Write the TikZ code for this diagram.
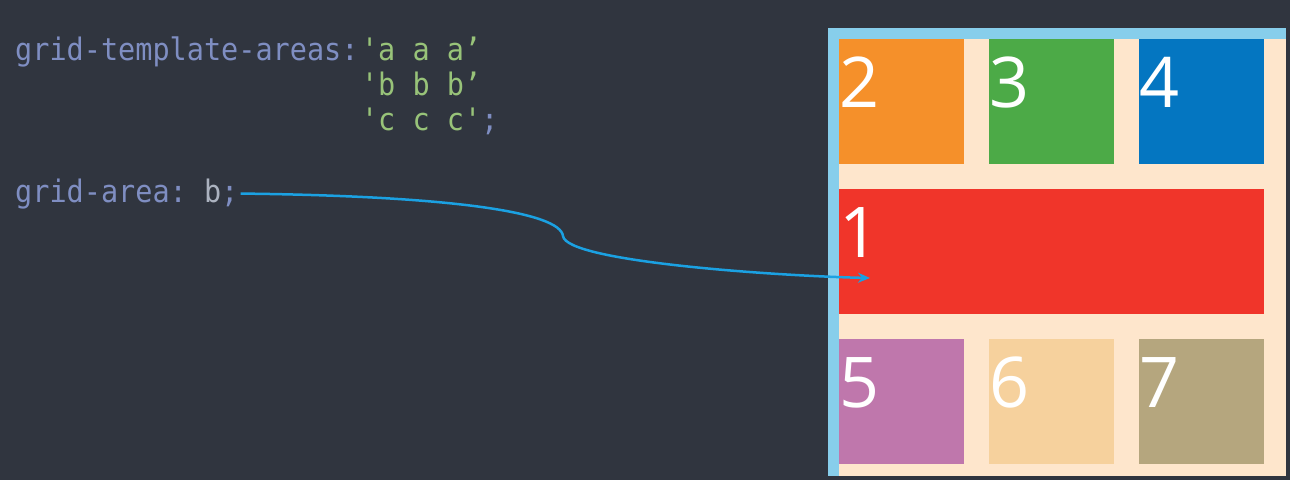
\documentclass[tikz,border=0pt]{standalone}
\usepackage{fontspec}
\setmonofont{DejaVu Sans Mono}[FakeStretch=0.92]
\newfontfamily\numfont{Open Sans}
\usetikzlibrary{arrows.meta}
\definecolor{bgdark}{HTML}{30353F}
\definecolor{codeprop}{HTML}{7F8EC2}
\definecolor{codestr}{HTML}{98C379}
\definecolor{codeval}{HTML}{ABB2BF}
\definecolor{arrowblue}{HTML}{1BA1E2}
\definecolor{gridborder}{HTML}{87CEEB}
\definecolor{gridbg}{HTML}{FEE6CC}
\definecolor{itemorange}{HTML}{F5902A}
\definecolor{itemgreen}{HTML}{4CAA47}
\definecolor{itemblue}{HTML}{0476C1}
\definecolor{itemred}{HTML}{F0352A}
\definecolor{itempurple}{HTML}{BF77AC}
\definecolor{itemtan}{HTML}{F6D19D}
\definecolor{itemkhaki}{HTML}{B5A67E}
\tikzset{
  code/.style={font=\ttfamily\fontsize{31}{36}\selectfont, anchor=base west, inner sep=0pt},
  cell/.style={minimum width=125pt, minimum height=125pt, inner sep=0pt, anchor=north west},
  num/.style={font=\numfont\fontsize{70}{70}\selectfont, text=white, anchor=base west, inner sep=0pt},
}
\begin{document}
\begin{tikzpicture}[x=1pt,y=-1pt]
  \fill[bgdark] (0,0) rectangle (1290,480);
  \useasboundingbox (0,0) rectangle (1290,480);
  % code
  \node[code, text=codeprop] (tpl) at (15,60) {grid-template-areas:};
  \node[code, text=codestr] (rowa) at ([xshift=2pt]tpl.base east) {'a a a’};
  \node[code, text=codestr] (rowb) at ([yshift=-35pt]rowa.base west) {'b b b’};
  \node[code, text=codestr] (rowc) at ([yshift=-35pt]rowb.base west) {'c c c'\textcolor{codeprop}{;}};
  \node[code, text=codeprop] (ga) at (15,202) {grid-area: \textcolor{codeval}{b};};
  % grid container
  \fill[gridborder] (828,28) rectangle (1286,476);
  \fill[gridbg] (839,39) rectangle (1286,476);
  \node[cell, fill=itemorange] (c2) at (839,39) {};
  \node[cell, fill=itemgreen] (c3) at (989,39) {};
  \node[cell, fill=itemblue] (c4) at (1139,39) {};
  \node[cell, fill=itemred, minimum width=425pt] (c1) at (839,189) {};
  \node[cell, fill=itempurple] (c5) at (839,339) {};
  \node[cell, fill=itemtan] (c6) at (989,339) {};
  \node[cell, fill=itemkhaki] (c7) at (1139,339) {};
  \node[num] (n2) at ([yshift=-68pt]c2.north west) {2};
  \node[num] (n3) at ([yshift=-68pt]c3.north west) {3};
  \node[num] (n4) at ([yshift=-68pt]c4.north west) {4};
  \node[num] (n1) at ([yshift=-68pt]c1.north west) {1};
  \node[num] (n5) at ([yshift=-68pt]c5.north west) {5};
  \node[num] (n6) at ([yshift=-68pt]c6.north west) {6};
  \node[num] (n7) at ([yshift=-68pt]c7.north west) {7};
  % arrow
  \coordinate (tip) at (870,278);
  \draw[arrowblue, line width=2.5pt, -{Stealth[length=12pt,width=10pt]}]
    ([xshift=2pt]ga.east) .. controls (450,196) and (560,212) .. (563,236)
    .. controls (566,262) and (780,276) .. (tip);
\end{tikzpicture}
\end{document}
